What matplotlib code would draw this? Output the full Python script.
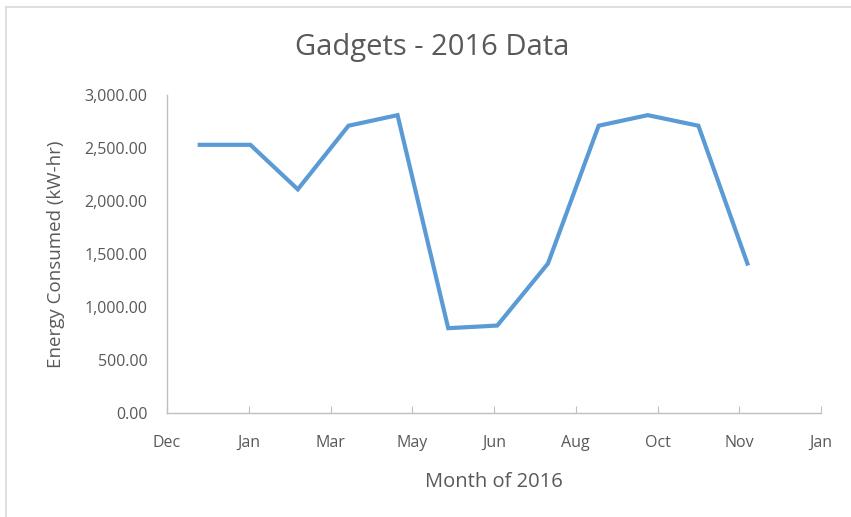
import matplotlib
matplotlib.use("Agg")
import matplotlib.pyplot as plt
import matplotlib.dates as mdates
from matplotlib.ticker import FuncFormatter, FixedLocator
from matplotlib.lines import Line2D
import pandas as pd

months = pd.date_range("2016-01-01", "2016-12-01", freq="MS")
energy = [2530, 2530, 2110, 2710, 2810, 800, 825, 1410, 2710, 2810, 2710, 1410]
y_ticks = [0, 500, 1000, 1500, 2000, 2500, 3000]

x_start = pd.Timestamp("2015-12-12")
x_end = pd.Timestamp("2017-01-15")
x_ticks = pd.date_range(x_start, x_end, freq="50D")

plt.rcParams['font.family'] = ['Open Sans', 'DejaVu Sans']
grey = "#595959"
axis_grey = "#BFBFBF"

fig = plt.figure(figsize=(8.51, 5.17), dpi=100)
ax = fig.add_axes([167/851, 1-413/517, (821-167)/851, (413-95)/517])

ax.plot(months, energy, color="#5B9BD5", linewidth=3.0, solid_joinstyle="miter")

ax.set_xlim(x_start, x_end)
ax.set_ylim(0, 3000)
ax.xaxis.set_major_locator(FixedLocator(mdates.date2num(x_ticks)))
ax.xaxis.set_major_formatter(mdates.DateFormatter("%b"))
ax.set_yticks(y_ticks)
ax.yaxis.set_major_formatter(FuncFormatter(lambda v, p: f"{v:,.2f}"))

for s in ["top", "right"]:
    ax.spines[s].set_visible(False)
for s in ["left", "bottom"]:
    ax.spines[s].set_color(axis_grey)
    ax.spines[s].set_linewidth(1.0)

ax.tick_params(axis="x", direction="in", length=5, color=axis_grey, labelcolor=grey,
               labelsize=11.5, pad=16)
ax.tick_params(axis="y", length=0, labelcolor=grey, labelsize=11.5, pad=14)

ax.set_xlabel("Month of 2016", color=grey, fontsize=14.5, labelpad=15)
ax.set_ylabel("Energy Consumed (kW-hr)", color=grey, fontsize=13.5, labelpad=14)
fig.text(432/851, 1-47/517, "Gadgets - 2016 Data", ha="center", va="center",
         color=grey, fontsize=21)

# chart frame (top and left visible)
fig.add_artist(Line2D([6/851, 6/851], [0, 1-7/517], transform=fig.transFigure,
                      color="#D9D9D9", linewidth=1.2))
fig.add_artist(Line2D([6/851, 1], [1-7/517, 1-7/517], transform=fig.transFigure,
                      color="#D9D9D9", linewidth=1.2))

fig.savefig("out.png", dpi=100, facecolor="white")
